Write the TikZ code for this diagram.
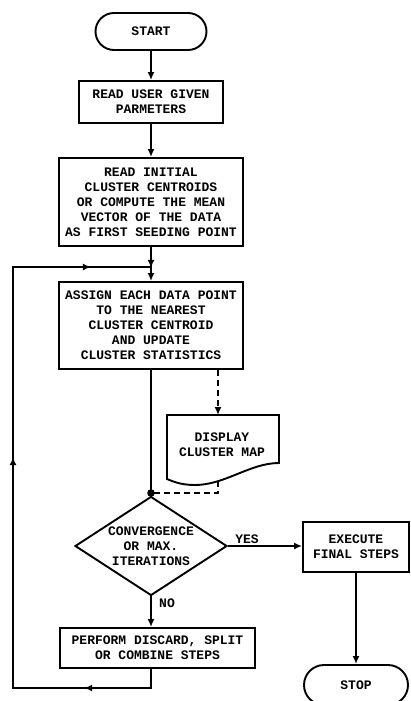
\documentclass[tikz,border=0pt]{standalone}
\usepackage{fontspec}
\setmonofont{Liberation Mono}
\usetikzlibrary{shapes.geometric,shapes.misc,arrows.meta,decorations.markings}
\tikzset{
  tip/.tip={Latex[length=8pt,width=7pt]},
  box/.style={draw, rectangle, align=center, inner sep=0pt},
  term/.style={draw, rounded rectangle, inner sep=0pt},
  flow/.style={-tip},
  dashline/.style={dash pattern=on 6pt off 4pt},
  arrowat/.style={postaction=decorate, decoration={markings,
      mark=at position #1 with {\arrow{tip}}}},
  label/.style={inner sep=0pt},
}
\begin{document}
\begin{tikzpicture}[x=1pt, y=-1pt, line width=1.9pt,
    font=\ttfamily\bfseries\fontsize{13}{15}\selectfont]
  \useasboundingbox (0,0) rectangle (411,701);

  % main column
  \node[term, minimum width=111pt, minimum height=37pt] (start) at (151,31.5) {START};
  \node[box, minimum width=144pt, minimum height=42pt] (params) at (151,102)
    {READ USER GIVEN\\PARMETERS};
  \node[box, minimum width=184pt, minimum height=88pt] (init) at (151,202)
    {READ INITIAL\\CLUSTER CENTROIDS\\OR COMPUTE THE MEAN\\VECTOR OF THE DATA\\AS FIRST SEEDING POINT};
  \node[box, minimum width=184pt, minimum height=87pt] (assign) at (151,325.5)
    {ASSIGN EACH DATA POINT\\TO THE NEAREST\\CLUSTER CENTROID\\AND UPDATE\\CLUSTER STATISTICS};
  \node[draw, diamond, minimum width=152pt, minimum height=99pt, inner sep=0pt] (dec) at (151,546) {};
  \node[align=center, inner sep=0pt] (dectext) at (dec.center) {CONVERGENCE\\OR MAX.\\ITERATIONS};
  \node[box, minimum width=195pt, minimum height=40pt] (perform) at (157.5,648)
    {PERFORM DISCARD, SPLIT\\OR COMBINE STEPS};

  % right column
  \node[box, minimum width=106pt, minimum height=50pt] (exec) at (356,547)
    {EXECUTE\\FINAL STEPS};
  \node[term, minimum width=104pt, minimum height=40pt] (stop) at (356,685) {STOP};

  % display document
  \draw (167,415) -- (279,415) -- (279,463)
    .. controls (250,463) and (225,485) .. (195,485)
    .. controls (180,485) and (172,481) .. (167,479) -- cycle;
  \node[align=center, inner sep=0pt] (doc) at (222,445) {DISPLAY\\CLUSTER MAP};
  \coordinate (dtop) at (218,415);
  \coordinate (dbot) at (218,481);

  % junctions
  \coordinate (join) at (151,267);
  \coordinate (jdot) at (151,493);

  % connectors
  \draw[flow] (start) -- (params);
  \draw[flow] (params) -- (init);
  \draw[flow, arrowat=21pt] (init) -- (assign);
  \draw (assign) -- (dec.north);
  \fill (jdot) circle (3.8pt);
  \draw[flow, dashline] (dtop |- assign.south) -- (dtop);
  \draw[dashline] (dbot) -- (dbot |- jdot) -- (jdot);
  \draw[flow] (dec.east) -- (dec.east -| exec.west);
  \node[label] (yes) at (247,539) {YES};
  \draw[flow] (dec.south) -- (dec.south |- perform.north);
  \node[label] (no) at (167,603) {NO};
  \draw[flow] (exec) -- (stop);

  % feedback loop
  \draw[postaction=decorate, decoration={markings,
      mark=at position 86pt with {\arrow{tip}},
      mark=at position 388pt with {\arrow{tip}},
      mark=at position 656pt with {\arrow{tip}}}]
    (perform.south -| join) -- (151,688) -- (13,688) -- (13,267) -- (join);
\end{tikzpicture}
\end{document}
